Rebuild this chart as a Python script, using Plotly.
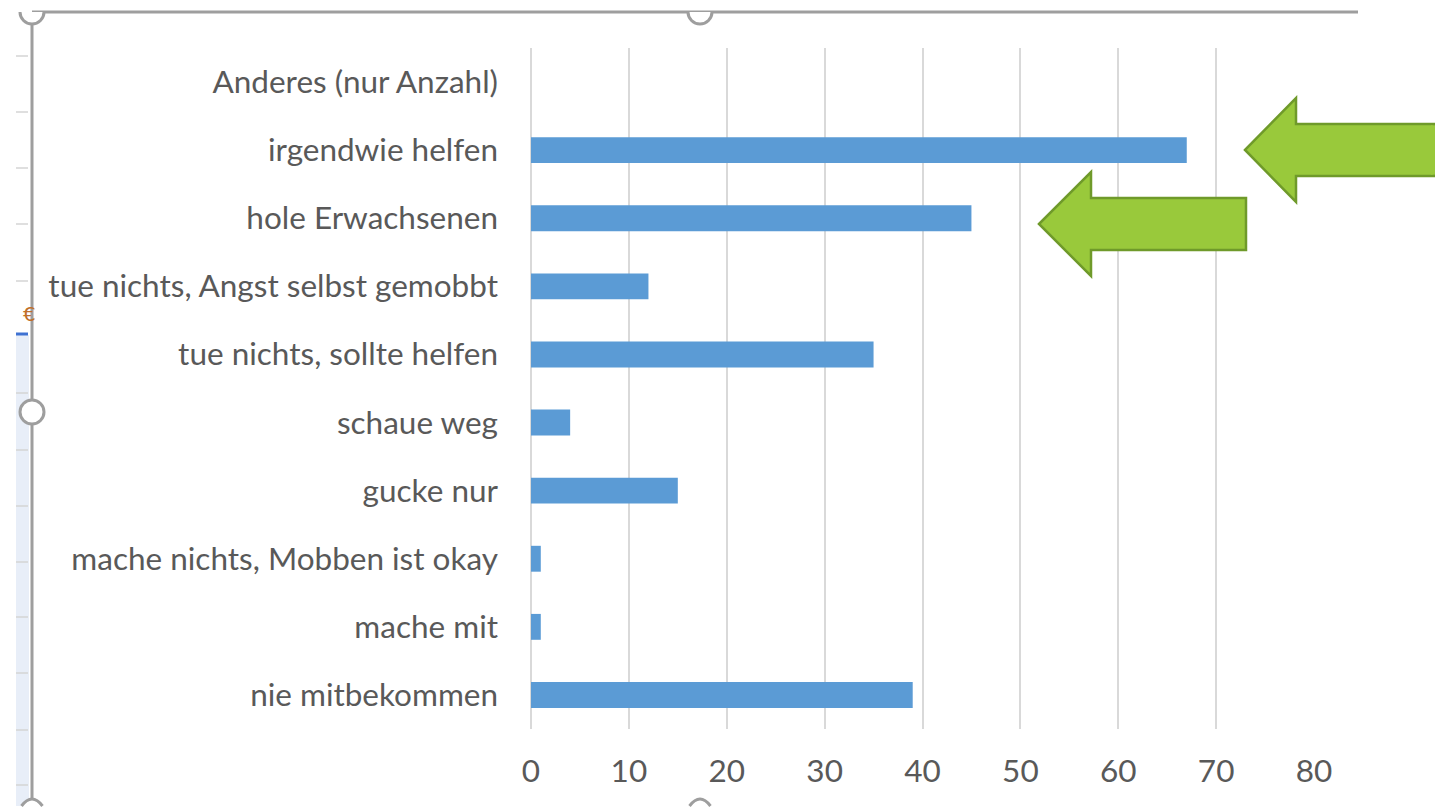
import plotly.graph_objects as go

# ---- data (bottom to top) ----
categories = [
    "nie mitbekommen",
    "mache mit",
    "mache nichts, Mobben ist okay",
    "gucke nur",
    "schaue weg",
    "tue nichts, sollte helfen",
    "tue nichts, Angst selbst gemobbt",
    "hole Erwachsenen",
    "irgendwie helfen",
    "Anderes (nur Anzahl)",
]
values = [39, 1, 1, 15, 4, 35, 12, 45, 67, 0]
x_ticks = [0, 10, 20, 30, 40, 50, 60, 70, 80]

W, H = 1435, 807


def px(x):
    return x / W


def py(y):
    return 1 - y / H


def poly(points):
    d = "M " + " L ".join(f"{px(x):.5f},{py(y):.5f}" for x, y in points) + " Z"
    return d


fig = go.Figure(
    go.Bar(
        y=categories,
        x=values,
        orientation="h",
        marker=dict(color="#5B9BD5", line=dict(width=0)),
        hoverinfo="x+y",
    )
)

TXT = dict(family="Lato, Carlito, Calibri, sans-serif", size=31.5, color="#595959")

fig.update_layout(
    width=W,
    height=H,
    autosize=False,
    margin=dict(l=0, r=0, t=0, b=0, pad=0, autoexpand=False),
    paper_bgcolor="white",
    plot_bgcolor="white",
    bargap=0.62,
    showlegend=False,
    font=TXT,
    xaxis=dict(
        domain=[px(531), px(1314)],
        range=[0, 80],
        tickvals=x_ticks,
        ticktext=[str(v) for v in x_ticks],
        showgrid=True,
        gridcolor="#D9D9D9",
        gridwidth=2,
        zeroline=True,
        zerolinecolor="#D9D9D9",
        zerolinewidth=2,
        showline=False,
        ticks="",
        ticklabelstandoff=20,
        tickfont=TXT,
        automargin=False,
        fixedrange=True,
    ),
    yaxis=dict(
        domain=[py(729), py(48)],
        categoryorder="array",
        categoryarray=categories,
        showgrid=False,
        zeroline=False,
        showline=False,
        ticks="",
        ticklabelstandoff=32,
        tickfont=TXT,
        automargin=False,
        fixedrange=True,
    ),
)

shapes = []
GRAY = "#9E9E9E"

# left strip (spreadsheet rows behind the chart object)
shapes.append(dict(type="rect", xref="paper", yref="paper",
                   x0=px(16), x1=px(29), y0=py(806), y1=py(335),
                   fillcolor="#E8EEF8", line=dict(width=0), layer="below"))
for yy in [56, 112, 168, 224, 281, 393, 450, 506, 562, 617, 673, 730, 785]:
    shapes.append(dict(type="line", xref="paper", yref="paper",
                       x0=px(16), x1=px(28), y0=py(yy), y1=py(yy),
                       line=dict(color="#D4D4D4", width=1.5)))
shapes.append(dict(type="line", xref="paper", yref="paper",
                   x0=px(16), x1=px(28), y0=py(334), y1=py(334),
                   line=dict(color="#3F72D2", width=3)))

# frame lines
shapes.append(dict(type="line", xref="paper", yref="paper",
                   x0=px(32), x1=px(1358), y0=py(12), y1=py(12),
                   line=dict(color=GRAY, width=3)))
shapes.append(dict(type="line", xref="paper", yref="paper",
                   x0=px(32), x1=px(32), y0=py(12), y1=py(806),
                   line=dict(color=GRAY, width=3)))

# handles
R = 12
# top handles: only lower halves visible
for cx in [32, 700]:
    k = 0.5523 * R
    path = (f"M {px(cx - R):.5f},{py(12):.5f} "
            f"C {px(cx - R):.5f},{py(12 + k):.5f} {px(cx - k):.5f},{py(12 + R):.5f} {px(cx):.5f},{py(12 + R):.5f} "
            f"C {px(cx + k):.5f},{py(12 + R):.5f} {px(cx + R):.5f},{py(12 + k):.5f} {px(cx + R):.5f},{py(12):.5f}")
    shapes.append(dict(type="path", xref="paper", yref="paper", path=path,
                       fillcolor="white", line=dict(color=GRAY, width=3)))
# middle left handle
shapes.append(dict(type="circle", xref="paper", yref="paper",
                   x0=px(32 - R), x1=px(32 + R), y0=py(412 + R), y1=py(412 - R),
                   fillcolor="white", line=dict(color=GRAY, width=3)))
# bottom handles: only the top arcs visible
for cx in [32, 700]:
    path = (f"M {px(cx - 10.5):.5f},{py(806):.5f} "
            f"Q {px(cx):.5f},{py(792):.5f} {px(cx + 10.5):.5f},{py(806):.5f}")
    shapes.append(dict(type="path", xref="paper", yref="paper", path=path,
                       fillcolor="white", line=dict(color=GRAY, width=3)))

# green arrows (the upper one runs out of the picture at the right edge)
ARROW_FILL = "#99C93B"
ARROW_LINE = "#6F9A2A"
arrow1 = [(1245, 150), (1296, 98), (1296, 124), (1434, 124), (1434, 176), (1296, 176), (1296, 202)]
arrow2 = [(1039, 224), (1091, 172), (1091, 198), (1246, 198), (1246, 250), (1091, 250), (1091, 276)]
for a in (arrow1, arrow2):
    shapes.append(dict(type="path", xref="paper", yref="paper", path=poly(a),
                       fillcolor=ARROW_FILL, line=dict(color=ARROW_LINE, width=2.5)))
# hide the stroke at the cut edge
shapes.append(dict(type="rect", xref="paper", yref="paper",
                   x0=px(1431), x1=px(1435), y0=py(174.7), y1=py(125.3),
                   fillcolor=ARROW_FILL, line=dict(width=0)))

fig.update_layout(shapes=shapes)

fig.add_annotation(x=px(21), y=py(314), xref="paper", yref="paper", text="€",
                   showarrow=False, font=dict(family="DejaVu Sans", size=20, color="#C0702A"))

fig.write_html(
    "out.html",
    config={"displayModeBar": False},
    post_script="document.body.style.margin='0';document.body.style.overflow='hidden';"
                "document.documentElement.style.overflow='hidden';",
)
